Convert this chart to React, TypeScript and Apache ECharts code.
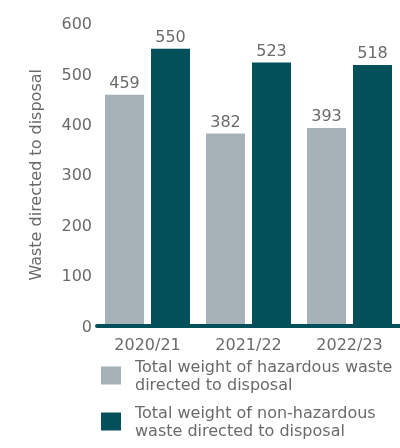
import React, { useEffect, useRef } from "react";
import * as echarts from "echarts";

const categories = ["2020/21", "2021/22", "2022/23"];
const hazardous = [459, 382, 393];
const nonHazardous = [550, 523, 518];
const seriesNames = [
  "Total weight of hazardous waste\ndirected to disposal",
  "Total weight of non-hazardous\nwaste directed to disposal",
];
const yTicks = { min: 0, max: 600, interval: 100 };

const GRAY = "#a7b1b8";
const TEAL = "#03505a";
const TEXT = "#6a6a6a";
const FONT = "DejaVu Sans";

export default function App() {
  const ref = useRef<HTMLDivElement>(null);
  useEffect(() => {
    if (!ref.current) return;
    const chart = echarts.init(ref.current, undefined, { renderer: "svg" });
    const legendText = {
      fontFamily: FONT,
      fontSize: 16,
      color: TEXT,
      lineHeight: 18.5,
      padding: [14, 0, 0, 9],
    };
    chart.setOption({
      animation: false,
      textStyle: { fontFamily: FONT },
      grid: { left: 97, right: 0, top: 23.6, bottom: 122, containLabel: false },
      xAxis: {
        type: "category",
        data: categories,
        offset: 2,
        z: 10,
        axisLine: { show: true, lineStyle: { color: TEAL, width: 4 } },
        axisTick: { show: false },
        axisLabel: { color: TEXT, fontFamily: FONT, fontSize: 16, margin: 8 },
      },
      yAxis: {
        type: "value",
        min: yTicks.min,
        max: yTicks.max,
        interval: yTicks.interval,
        name: "Waste directed to disposal",
        nameLocation: "middle",
        nameGap: 54,
        nameTextStyle: { color: TEXT, fontFamily: FONT, fontSize: 16 },
        axisLine: { show: false },
        axisTick: { show: false },
        splitLine: { show: false },
        axisLabel: {
          color: TEXT,
          fontFamily: FONT,
          fontSize: 16,
          margin: 5,
          padding: [0, 0, 7, 0],
        },
      },
      legend: [
        {
          data: [seriesNames[0]],
          orient: "vertical",
          left: 101,
          top: 350,
          padding: 0,
          icon: "rect",
          itemWidth: 20,
          itemHeight: 18,
          textStyle: legendText,
          selectedMode: false,
        },
        {
          data: [seriesNames[1]],
          orient: "vertical",
          left: 101,
          top: 396,
          padding: 0,
          icon: "rect",
          itemWidth: 20,
          itemHeight: 18,
          textStyle: legendText,
          selectedMode: false,
        },
      ],
      series: [
        {
          name: seriesNames[0],
          type: "bar",
          data: hazardous,
          barWidth: 39,
          barGap: "18%",
          itemStyle: { color: GRAY },
          label: {
            show: true,
            position: "top",
            distance: 4,
            color: TEXT,
            fontFamily: FONT,
            fontSize: 16,
          },
        },
        {
          name: seriesNames[1],
          type: "bar",
          data: nonHazardous,
          barWidth: 39,
          barGap: "18%",
          itemStyle: { color: TEAL },
          label: {
            show: true,
            position: "top",
            distance: 4,
            color: TEXT,
            fontFamily: FONT,
            fontSize: 16,
          },
        },
      ],
    });
    return () => chart.dispose();
  }, []);
  return (
    <div
      ref={ref}
      style={{ position: "fixed", left: 0, top: 0, width: 400, height: 448 }}
    />
  );
}
